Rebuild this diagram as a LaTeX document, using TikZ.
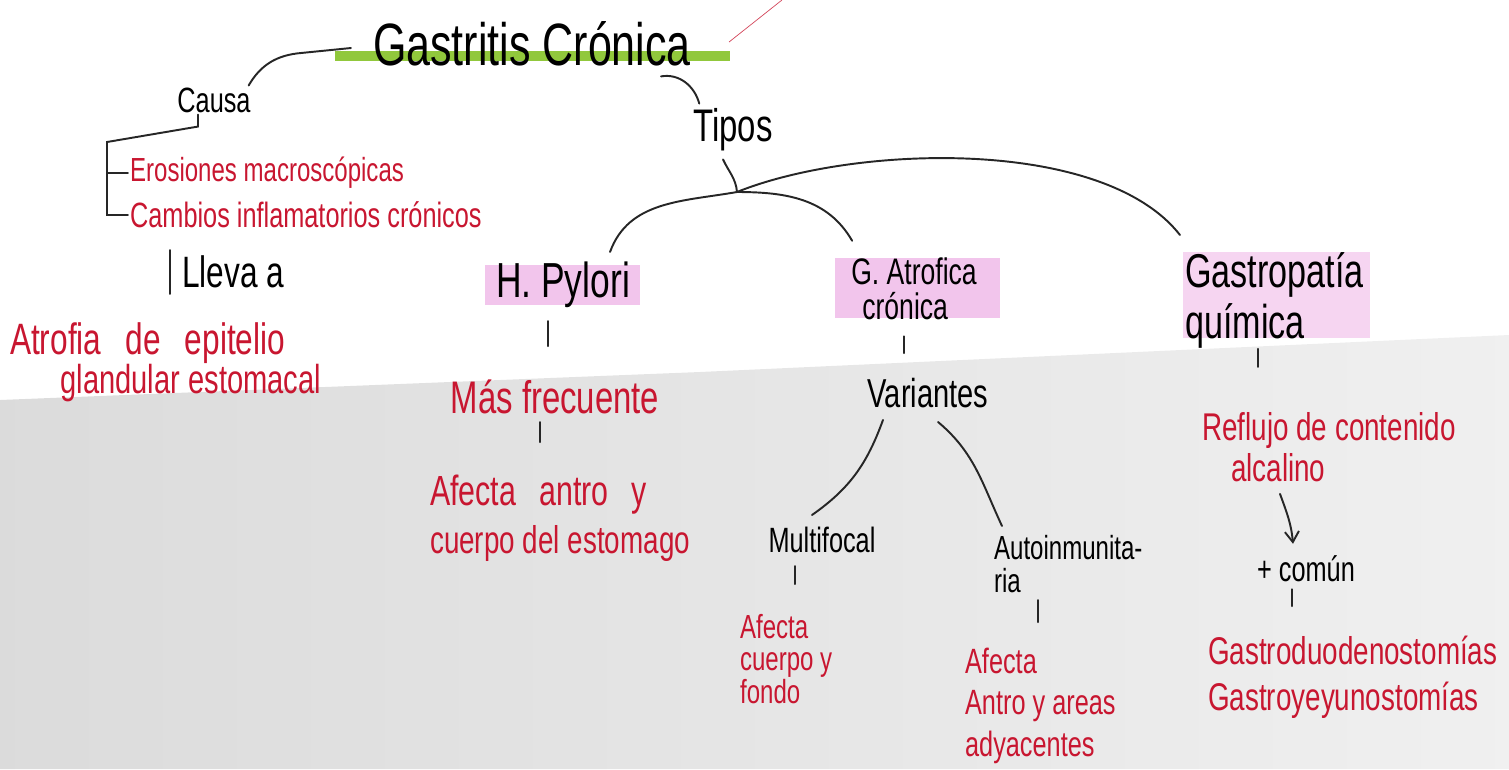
\documentclass[tikz,border=0pt]{standalone}
\usepackage{fontspec}
\setmainfont[FakeStretch=0.72]{Liberation Sans}
\usetikzlibrary{calc,arrows.meta}
\definecolor{tinta}{RGB}{200,22,48}
\definecolor{rosa}{RGB}{238,178,230}
\definecolor{verde}{RGB}{145,200,60}

\begin{document}
\begin{tikzpicture}[x=0.02cm,y=0.02cm,
    titulo/.style={text=black,inner sep=1pt,font=\fontsize{34}{38}\selectfont},
    negro/.style={text=black,inner sep=1pt,align=left,font=\fontsize{23}{30}\selectfont},
    rojo/.style={text=tinta,inner sep=1pt,align=left,font=\fontsize{22}{27}\selectfont},
    rojito/.style={text=tinta,inner sep=1pt,align=left,font=\fontsize{19}{22}\selectfont},
    linea/.style={black!85,line width=1.1pt,line cap=round}]
  \useasboundingbox (0,0) rectangle (1509,-769);
  % papel
  \shade[left color=black!14,right color=black!6] (0,-400) -- (700,-372) -- (1509,-335) -- (1509,-769) -- (0,-769) -- cycle;
  % resaltados
  \fill[verde] (335,-51) rectangle (730,-61);
  \fill[rosa,opacity=0.75] (485,-265) rectangle (640,-305);
  \fill[rosa,opacity=0.75] (835,-258) rectangle (1000,-318);
  \fill[rosa,opacity=0.55] (1183,-252) rectangle (1370,-338);

  \node[titulo](gc) at (532,-44){Gastritis Crónica};
  \node[negro,font=\fontsize{20}{24}\selectfont](causa) at (214,-100){Causa};
  \node[rojito,anchor=west](eros) at (128,-173){Erosiones macroscópicas};
  \node[rojito,anchor=west,font=\fontsize{20}{22}\selectfont](camb) at (128,-215){Cambios inflamatorios crónicos};
  \node[negro,anchor=west,font=\fontsize{25}{30}\selectfont](lleva) at (180,-272){Lleva a};
  \node[rojo,font=\fontsize{25}{22}\selectfont,anchor=north west](atrof) at (8,-321){Atrofia\hspace{0.35em} de\hspace{0.35em} epitelio\\\hspace{1.15em}\fontsize{23}{22}\selectfont glandular estomacal};
  \node[negro,font=\fontsize{26}{30}\selectfont](tipos) at (733,-130){Tipos};
  \coordinate (jn) at (737,-192);
  \node[negro,font=\fontsize{28}{30}\selectfont](hp) at (563,-285){H. Pylori};
  \node[rojo,font=\fontsize{26}{30}\selectfont](mas) at (555,-397){Más frecuente};
  \node[rojo,anchor=north west,font=\fontsize{22}{27}\selectfont](afec1) at (428,-473){\fontsize{24}{27}\selectfont Afecta\hspace{0.35em} antro\hspace{0.35em} y\\cuerpo del estomago};
  \node[negro,font=\fontsize{21}{20}\selectfont](gat) at (914,-289){G. Atrofica\\\hspace{0.3em}crónica};
  \node[negro](var) at (928,-393){Variantes};
  \node[negro,font=\fontsize{20}{24}\selectfont](multi) at (822,-540){Multifocal};
  \node[rojito,anchor=north west,font=\fontsize{19}{18.5}\selectfont](afec2) at (738,-612){Afecta\\cuerpo y\\fondo};
  \node[negro,font=\fontsize{19}{19}\selectfont,anchor=north west](auto) at (992,-533){Autoinmunita-\\ria};
  \node[rojo,anchor=north west,font=\fontsize{20}{23.5}\selectfont](afec3) at (963,-646){Afecta\\Antro y areas\\adyacentes};
  \node[negro,anchor=north west,font=\fontsize{27}{29.5}\selectfont](gq) at (1183,-250){Gastropatía\\química};
  \node[rojo,anchor=north west,font=\fontsize{22}{23.5}\selectfont](refl) at (1200,-410){Reflujo de contenido\\\hspace{0.75em}alcalino};
  \node[negro,font=\fontsize{20}{24}\selectfont](comun) at (1306,-569){+ común};
  \node[rojo,anchor=north west,font=\fontsize{22}{26}\selectfont](gastro) at (1206,-634){Gastroduodenostomías\\Gastroyeyunostomías};
  \coordinate (fuera) at (782,0);

  % ramas
  \draw[tinta!80,thin] ($(gc.east)+(36,2)$) -- (fuera);
  \draw[linea] ($(gc.west)+(-20,-4)$) -- ($(gc.west)+(-70,-9)$) to[out=185,in=60] ($(causa.north east)+(-4,0)$);
  \coordinate (llave) at (107,-142);
  \draw[linea] ($(causa.south)+(-16,0)$) -- ++(0,-12) -- (llave) -- (llave |- camb.west) -- (camb.west);
  \draw[linea] (llave |- eros.west) -- (eros.west);
  \draw[linea] ($(lleva.west)+(-10,22)$) -- ($(lleva.west)+(-10,-22)$);
  \draw[linea] ($(gc.south east)+(-32,-8)$) to[out=10,in=105] ($(tipos.north west)+(8,3)$);
  \draw[linea] ($(tipos.south)+(-10,-6)$) to[out=-65,in=95] (jn);
  \draw[linea] (jn) to[out=190,in=70] ($(hp.north east)+(-22,8)$);
  \draw[linea] (jn) to[out=0,in=120] ($(gat.north west)+(3,15)$);
  \draw[linea] (jn) to[out=22,in=128,looseness=0.72] ($(gq.north west)+(-3,15)$);
  \draw[linea] (hp.south) ++(-15,-11) -- ++(0,-25);
  \draw[linea] (mas.south) ++(-15,-6) -- ++(0,-20);
  \draw[linea] (gat.south) ++(-10,-14) -- ++(0,-17);
  \draw[linea] ($(var.south)+(-45,-10)$) to[out=-110,in=35] ($(multi.north)+(-10,10)$);
  \draw[linea] ($(var.south)+(10,-12)$) to[out=-40,in=115] ($(auto.north west)+(10,7)$);
  \draw[linea] (multi.south) ++(-27,-11) -- ++(0,-18);
  \draw[linea] (auto.south west) ++(46,-5) -- ++(0,-22);
  \draw[linea] (gq.south west) ++(75,2) -- ++(0,-18);
  \draw[linea,-{Straight Barb[length=6pt,width=8pt]}] ($(refl.south west)+(80,-10)$) to[out=-70,in=95] ($(comun.north)+(-13,10)$);
  \draw[linea] (comun.south) ++(-14,-5) -- ++(0,-17);
\end{tikzpicture}
\end{document}
